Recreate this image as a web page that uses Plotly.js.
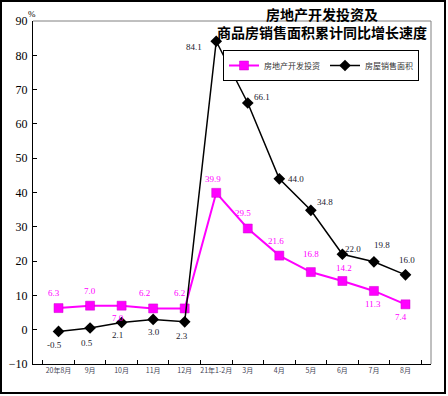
<!DOCTYPE html>
<html>
<head>
<meta charset="utf-8">
<script src="https://cdn.plot.ly/plotly-3.0.1.min.js"></script>
<style>
html,body{margin:0;padding:0;background:#fff;}
#chart{width:448px;height:396px;}
</style>
</head>
<body>
<div id="chart"></div>
<script>
// Data
const categories = ["20年8月","9月","10月","11月","12月","21年1-2月","3月","4月","5月","6月","7月","8月"];
const investValues = [6.3, 7.0, 7.0, 6.2, 6.2, 39.9, 29.5, 21.6, 16.8, 14.2, 11.3, 7.4];
const salesAreaValues = [-0.5, 0.5, 2.1, 3.0, 2.3, 84.1, 66.1, 44.0, 34.8, 22.0, 19.8, 16.0];
const investLabels = ["6.3","7.0","7.0","6.2","6.2","39.9","29.5","21.6","16.8","14.2","11.3","7.4"];
const salesLabels = ["-0.5","0.5","2.1","3.0","2.3","84.1","66.1","44.0","34.8","22.0","19.8","16.0"];
const seriesNames = ["房地产开发投资","房屋销售面积"];
const titleLines = ["房地产开发投资及","商品房销售面积累计同比增长速度"];

// Label pixel offsets (style only)
const investShiftX = [-5, 0, -4, -9, -5, -3, -5, -3, 0, 2, -1, -4];
const investShiftY = [15, 15, -12, 15, 15, 14, 16, 15, 18, 13, -13, -13];
const salesShiftX = [-4, -3, -4, 1, -3, -22, 14, 17, 14, 11, 8, 2];
const salesShiftY = [-14, -15, -12, -13, -14, -6, 6, 0, 8, 5, 17, 15];

const MAG = "#FF00FF";
const traces = [
  {
    x: categories, y: investValues, name: seriesNames[0], type: "scatter", mode: "lines+markers",
    line: {color: MAG, width: 2},
    marker: {symbol: "square", size: 9, color: MAG, line: {color: "#cc00cc", width: 0.5}}
  },
  {
    x: categories, y: salesAreaValues, name: seriesNames[1], type: "scatter", mode: "lines+markers",
    line: {color: "#000000", width: 1.5},
    marker: {symbol: "diamond", size: 9, color: "#000000"}
  }
];

const annotations = [];
categories.forEach((c, i) => {
  annotations.push({
    x: c, y: investValues[i], xref: "x", yref: "y", text: investLabels[i], showarrow: false,
    xshift: investShiftX[i], yshift: investShiftY[i],
    font: {family: "Liberation Serif, serif", size: 9, color: MAG}
  });
  annotations.push({
    x: c, y: salesAreaValues[i], xref: "x", yref: "y", text: salesLabels[i], showarrow: false,
    xshift: salesShiftX[i], yshift: salesShiftY[i],
    font: {family: "Liberation Serif, serif", size: 9, color: "#1a1a2e"}
  });
});
annotations.push({
  xref: "paper", yref: "paper", x: -0.018, y: 1.0, xanchor: "left", yanchor: "bottom",
  text: "%", showarrow: false, font: {family: "Liberation Serif, serif", size: 9, color: "#000"}
});
// Title (two lines)
annotations.push({
  xref: "paper", yref: "paper", x: (322-33)/398, y: (364-22.5)/343, xanchor: "center", yanchor: "middle",
  text: "<b>" + titleLines[0] + "</b><br><b>" + titleLines[1] + "</b>", showarrow: false,
  borderpad: 0,
  font: {family: "Noto Sans CJK SC", size: 14, color: "#000"}
});

const layout = {
  width: 448, height: 396,
  margin: {l: 33, r: 17, t: 21, b: 32},
  paper_bgcolor: "#fff", plot_bgcolor: "#fff",
  showlegend: true,
  legend: {
    orientation: "h", x: (419-33)/398, xanchor: "right", y: (364-50)/343, yanchor: "top",
    bgcolor: "#fff", bordercolor: "#000", borderwidth: 1,
    font: {family: "Noto Sans CJK SC", size: 8, color: "#333"},
    itemwidth: 30, tracegroupgap: 0
  },
  xaxis: {
    type: "category", tickson: "boundaries", ticks: "inside", ticklen: 4, tickcolor: "#000",
    showline: true, linecolor: "#000", linewidth: 1, showgrid: false, zeroline: false,
    tickangle: 0,
    tickfont: {family: "Noto Sans CJK SC", size: 7, color: "#445"},
    fixedrange: true
  },
  yaxis: {
    range: [-10, 90], dtick: 10, tick0: 0, ticks: "inside", ticklen: 4, tickcolor: "#000",
    showline: true, linecolor: "#000", linewidth: 1, showgrid: false, zeroline: false,
    tickfont: {family: "Liberation Serif, serif", size: 12, color: "#000"},
    ticklabelstandoff: 2,
    fixedrange: true
  },
  annotations: annotations,
  shapes: [
    {type: "line", xref: "paper", yref: "paper", x0: 0, x1: 1, y0: 1, y1: 1, line: {color: "#808080", width: 1}},
    {type: "line", xref: "paper", yref: "paper", x0: 1, x1: 1, y0: 0, y1: 1, line: {color: "#808080", width: 1}},
    {type: "rect", xref: "paper", yref: "paper", x0: -32/398, x1: 412/398, y0: -29/343, y1: 363/343,
     line: {color: "#000", width: 2}, fillcolor: "rgba(0,0,0,0)"}
  ]
};

Plotly.newPlot("chart", traces, layout, {displayModeBar: false, staticPlot: true});
</script>
</body>
</html>
